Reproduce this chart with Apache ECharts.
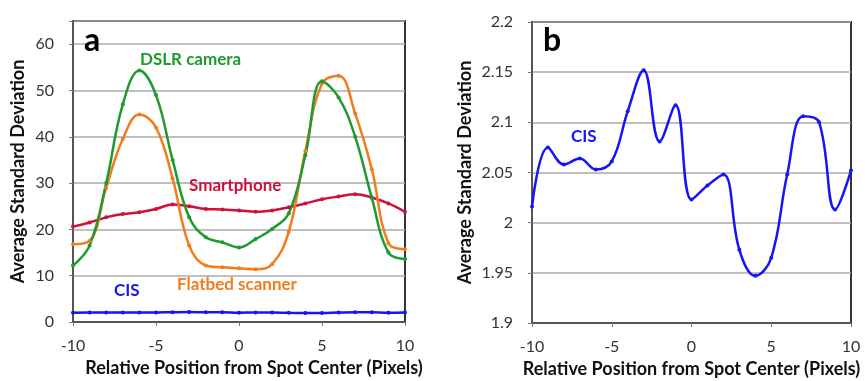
<!DOCTYPE html>
<html>
<head>
<meta charset="utf-8">
<script src="https://cdn.jsdelivr.net/npm/echarts@6/dist/echarts.min.js"></script>
<style>
  html, body { margin: 0; padding: 0; background: #fff; }
  #chart { width: 865px; height: 381px; }
</style>
</head>
<body>
<div id="chart"></div>
<script>
// x positions (pixels from spot center)
const positions = [-10, -9, -8, -7, -6, -5, -4, -3, -2, -1, 0, 1, 2, 3, 4, 5, 6, 7, 8, 9, 10]

// panel a
const dslrCamera = [12.2, 16.5, 30, 47, 54.3, 49, 35, 22.6, 18.3, 17.2, 16.1, 17.9, 20.1, 23.5, 36, 52, 48.5, 40, 26.8, 15, 13.6]
const flatbedScanner = [16.8, 17.5, 29, 39.5, 44.8, 42, 31, 16.5, 12.2, 11.8, 11.6, 11.4, 12.5, 19.5, 37, 51.5, 53.2, 45, 33, 17, 15.7]
const smartphone = [20.6, 21.5, 22.6, 23.3, 23.7, 24.4, 25.4, 25, 24.4, 24.3, 24.1, 23.8, 24.1, 24.8, 25.6, 26.5, 27.1, 27.6, 26.9, 25.6, 23.8]
// panel b (CIS also drawn in panel a)
const cis = [2.016, 2.075, 2.058, 2.064, 2.053, 2.061, 2.111, 2.152, 2.081, 2.117, 2.023, 2.037, 2.048, 1.973, 1.947, 1.965, 2.048, 2.106, 2.1, 2.013, 2.052]

const xTicks = [-10, -5, 0, 5, 10]

const FONT = 'Lato'
const pairs = arr => positions.map((x, i) => [x, arr[i]])

const chart = echarts.init(document.getElementById('chart'))

const xAxisBase = {
  type: 'value',
  min: xTicks[0],
  max: xTicks[xTicks.length - 1],
  interval: 5,
  name: 'Relative Position from Spot Center (Pixels)',
  nameLocation: 'middle',
  nameGap: 37,
  nameTextStyle: { color: '#111', fontFamily: FONT, fontWeight: 'bold', fontSize: 18 },
  axisLine: { onZero: false, lineStyle: { color: '#555', width: 2 } },
  axisTick: { show: true, length: 4, lineStyle: { color: '#777' } },
  axisLabel: { color: '#333', fontFamily: FONT, fontSize: 16, margin: 16 },
  splitLine: { show: false }
}

const yAxisBase = {
  type: 'value',
  name: 'Average Standard Deviation',
  nameLocation: 'middle',
  nameTextStyle: { color: '#111', fontFamily: FONT, fontWeight: 'bold', fontSize: 18 },
  axisLine: { show: true, onZero: false, lineStyle: { color: '#555', width: 2 } },
  axisTick: { show: true, length: 4, lineStyle: { color: '#777' } },
  axisLabel: { color: '#333', fontFamily: FONT, fontSize: 16, margin: 19 },
  splitLine: { show: true, lineStyle: { color: '#aaa', width: 1.5 } }
}

const lineSeries = (name, data, color, idx) => ({
  name: name,
  type: 'line',
  xAxisIndex: idx,
  yAxisIndex: idx,
  data: pairs(data),
  smooth: 0.4,
  symbol: 'circle',
  symbolSize: 4,
  lineStyle: { color: color, width: 2.5 },
  itemStyle: { color: color },
  z: 3
})

const text = (left, top, str, color, size) => ({
  type: 'text',
  left: left,
  top: top,
  z: 10,
  style: { text: str, fill: color, font: 'bold ' + size + 'px ' + FONT }
})

const option = {
  backgroundColor: '#fff',
  animation: false,
  grid: [
    { left: 73, right: 460, top: 21, bottom: 59, outerBoundsMode: 'none', show: true, borderColor: '#333', borderWidth: 2, backgroundColor: '#fff' },
    { left: 532, right: 14, top: 22, bottom: 58, outerBoundsMode: 'none', show: true, borderColor: '#333', borderWidth: 2, backgroundColor: '#fff' }
  ],
  xAxis: [
    Object.assign({}, xAxisBase, {
      gridIndex: 0,
      nameTextStyle: Object.assign({}, xAxisBase.nameTextStyle, { padding: [0, 0, 0, 30] })
    }),
    Object.assign({}, xAxisBase, { gridIndex: 1 })
  ],
  yAxis: [
    Object.assign({}, yAxisBase, {
      gridIndex: 0, min: 0, max: 65, interval: 10, nameGap: 46,
      axisLabel: Object.assign({}, yAxisBase.axisLabel, { formatter: v => (v > 60 ? '' : v) })
    }),
    Object.assign({}, yAxisBase, {
      gridIndex: 1, min: 1.9, max: 2.2, interval: 0.05, nameGap: 58
    })
  ],
  series: [
    lineSeries('Smartphone', smartphone, '#d0103a', 0),
    lineSeries('Flatbed scanner', flatbedScanner, '#f07c1c', 0),
    lineSeries('DSLR camera', dslrCamera, '#1e9a30', 0),
    lineSeries('CIS', cis, '#1515f5', 0),
    lineSeries('CIS', cis, '#1515f5', 1)
  ],
  graphic: [
    text(84, 25, 'a', '#000', 32),
    text(140, 51, 'DSLR camera', '#1e9a30', 17),
    text(189, 177, 'Smartphone', '#d0103a', 17),
    text(177, 276, 'Flatbed scanner', '#f07c1c', 17),
    text(114, 282, 'CIS', '#1515f5', 17),
    text(543, 25, 'b', '#000', 32),
    text(571, 128, 'CIS', '#1515f5', 17)
  ]
}

chart.setOption(option)
</script>
</body>
</html>
